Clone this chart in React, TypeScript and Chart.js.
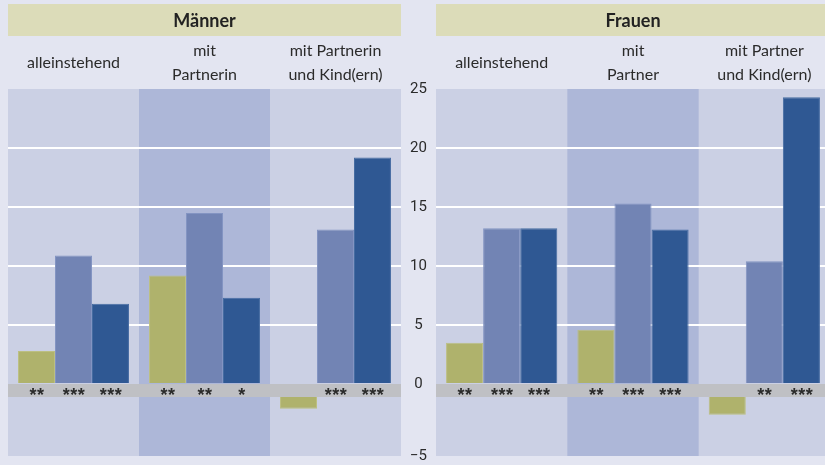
import React, { useEffect, useRef } from 'react';
import { Chart, registerables } from 'chart.js';

Chart.register(...registerables);

// ---------- data ----------
const PANEL_TITLES = ['Männer', 'Frauen'];
const GROUPS_M: (string | string[])[] = ['alleinstehend', ['mit', 'Partnerin'], ['mit Partnerin', 'und Kind(ern)']];
const GROUPS_F: (string | string[])[] = ['alleinstehend', ['mit', 'Partner'], ['mit Partner', 'und Kind(ern)']];

const M_GREEN = [2.8, 9.2, -1.0];
const M_LIGHT = [10.9, 14.5, 13.1];
const M_DARK = [6.8, 7.3, 19.2];
const F_GREEN = [3.5, 4.6, -1.5];
const F_LIGHT = [13.2, 15.3, 10.4];
const F_DARK = [13.2, 13.1, 24.3];

const M_STARS_GREEN = ['**', '**', ''];
const M_STARS_LIGHT = ['***', '**', '***'];
const M_STARS_DARK = ['***', '*', '***'];
const F_STARS_GREEN = ['**', '**', ''];
const F_STARS_LIGHT = ['***', '***', '**'];
const F_STARS_DARK = ['***', '***', '***'];

const Y_TICKS = [-5, 0, 5, 10, 15, 20, 25];
const Y_MAX = 25;

// ---------- style ----------
const BAND = 1.1; // gray zero band height in axis units
const PAGE_BG = '#e3e5f1';
const PANEL_BG = '#cbd0e4';
const PANEL_MID = '#adb7d8';
const HEADER_BG = '#dcdcb9';
const BAND_COLOR = '#bfc0c4';
const C_GREEN = '#afb26c';
const C_LIGHT = '#7284b4';
const C_DARK = '#2f5893';
const B_GREEN = '#bcbf82';
const B_LIGHT = '#8394c2';
const B_DARK = '#476ca2';
const TEXT = '#2b2b2b';

const toAxis = (v: number) => (v < 0 ? v - BAND : v);
const toBar = (v: number) => (v < 0 ? [-BAND, v - BAND] : [0, v]);

const panelPlugin = {
  id: 'panelPlugin',
  beforeDraw(chart: any) {
    const { ctx, chartArea } = chart;
    const opts = chart.options.plugins.panelPlugin;
    const { left, right, top, bottom } = chartArea;
    const xs = chart.scales.x;
    const ys = chart.scales.y;
    ctx.save();
    ctx.fillStyle = PANEL_BG;
    ctx.fillRect(left, top, right - left, bottom - top);
    const w = (right - left) / xs.ticks.length;
    const cx = xs.getPixelForValue(1);
    ctx.fillStyle = PANEL_MID;
    ctx.fillRect(cx - w / 2, top, w, bottom - top);
    // header
    ctx.fillStyle = HEADER_BG;
    ctx.fillRect(left, 4, right - left, 32);
    ctx.fillStyle = '#222';
    ctx.font = 'bold 18px Lato';
    ctx.textAlign = 'center';
    ctx.textBaseline = 'middle';
    ctx.fillText(opts.title, (left + right) / 2, 21);
    // zero band
    const y0 = ys.getPixelForValue(0);
    const y1 = ys.getPixelForValue(-BAND);
    ctx.fillStyle = BAND_COLOR;
    ctx.fillRect(left, y0, right - left, y1 - y0);
    ctx.restore();
  },
  afterDatasetsDraw(chart: any) {
    const { ctx } = chart;
    const opts = chart.options.plugins.panelPlugin;
    const ys = chart.scales.y;
    const yc = (ys.getPixelForValue(0) + ys.getPixelForValue(-BAND)) / 2;
    ctx.save();
    ctx.font = 'bold 18px "Liberation Sans"';
    (ctx as any).letterSpacing = '0.5px';
    ctx.fillStyle = TEXT;
    ctx.textAlign = 'center';
    ctx.textBaseline = 'alphabetic';
    const m = ctx.measureText('*');
    const off = (m.actualBoundingBoxAscent - m.actualBoundingBoxDescent) / 2;
    opts.stars.forEach((arr: string[], di: number) => {
      const meta = chart.getDatasetMeta(di);
      meta.data.forEach((el: any, j: number) => {
        const s = arr[j];
        if (s) ctx.fillText(s, el.x + 0.5, yc + off + 0.5);
      });
    });
    ctx.restore();
  },
};

function makeConfig(groups: any[], green: number[], light: number[], dark: number[], stars: string[][], title: string, showAxis: boolean) {
  const ds = (vals: number[], bg: string, bd: string) => ({
    data: vals.map(toBar),
    backgroundColor: bg,
    borderColor: bd,
    borderWidth: 1,
    borderSkipped: 'start',
    barPercentage: 1,
    categoryPercentage: 0.847,
  });
  return {
    type: 'bar',
    data: {
      labels: groups,
      datasets: [ds(green, C_GREEN, B_GREEN), ds(light, C_LIGHT, B_LIGHT), ds(dark, C_DARK, B_DARK)],
    },
    plugins: [panelPlugin],
    options: {
      responsive: false,
      animation: false,
      events: [],
      layout: { padding: { left: showAxis ? 0 : 8, right: 0, top: 36, bottom: 9 } },
      plugins: {
        legend: { display: false },
        tooltip: { enabled: false },
        title: { display: false },
        panelPlugin: { title, stars },
      },
      scales: {
        x: {
          position: 'top',
          grid: { display: false, drawTicks: false },
          border: { display: false },
          afterFit: (s: any) => { s.height = 53; s.paddingLeft = 0; s.paddingRight = 0; },
          ticks: {
            font: { family: 'Lato', size: 16, lineHeight: 1.5 },
            color: TEXT,
            crossAlign: 'center',
            padding: 14,
            maxRotation: 0,
            autoSkip: false,
          },
        },
        y: {
          min: toAxis(Y_TICKS[0]),
          max: Y_MAX,
          afterBuildTicks: (s: any) => { s.ticks = Y_TICKS.map((v) => ({ value: toAxis(v) })); },
          afterFit: (s: any) => { s.width = showAxis ? 36 : 0; s.paddingTop = 0; s.paddingBottom = 0; },
          grid: {
            drawTicks: false,
            lineWidth: 2,
            color: (c: any) => {
              const v = c.tick && c.tick.value;
              return v > 0 && v < Y_MAX ? '#ffffff' : 'rgba(0,0,0,0)';
            },
          },
          border: { display: false },
          ticks: {
            display: showAxis,
            font: { family: 'Roboto', size: 15, lineHeight: 1 },
            color: TEXT,
            crossAlign: 'center',
            padding: 9,
            callback: (val: number) => {
              const t = Y_TICKS.find((v) => Math.abs(toAxis(v) - val) < 1e-6);
              return t === undefined ? '' : t < 0 ? '\u2212' + Math.abs(t) : String(t);
            },
          },
        },
      },
    },
  } as any;
}

export default function App() {
  const leftRef = useRef<HTMLCanvasElement>(null);
  const rightRef = useRef<HTMLCanvasElement>(null);

  useEffect(() => {
    const a = new Chart(leftRef.current!, makeConfig(GROUPS_M, M_GREEN, M_LIGHT, M_DARK, [M_STARS_GREEN, M_STARS_LIGHT, M_STARS_DARK], PANEL_TITLES[0], false));
    const b = new Chart(rightRef.current!, makeConfig(GROUPS_F, F_GREEN, F_LIGHT, F_DARK, [F_STARS_GREEN, F_STARS_LIGHT, F_STARS_DARK], PANEL_TITLES[1], true));
    return () => { a.destroy(); b.destroy(); };
  }, []);

  return (
    <div style={{ position: 'absolute', left: 0, top: 0, width: 825, height: 465, overflow: 'hidden', background: PAGE_BG }}>
      <canvas ref={leftRef} width={401} height={465} style={{ position: 'absolute', left: 0, top: 0, display: 'block' }} />
      <canvas ref={rightRef} width={430} height={465} style={{ position: 'absolute', left: 400, top: 0, display: 'block' }} />
    </div>
  );
}
